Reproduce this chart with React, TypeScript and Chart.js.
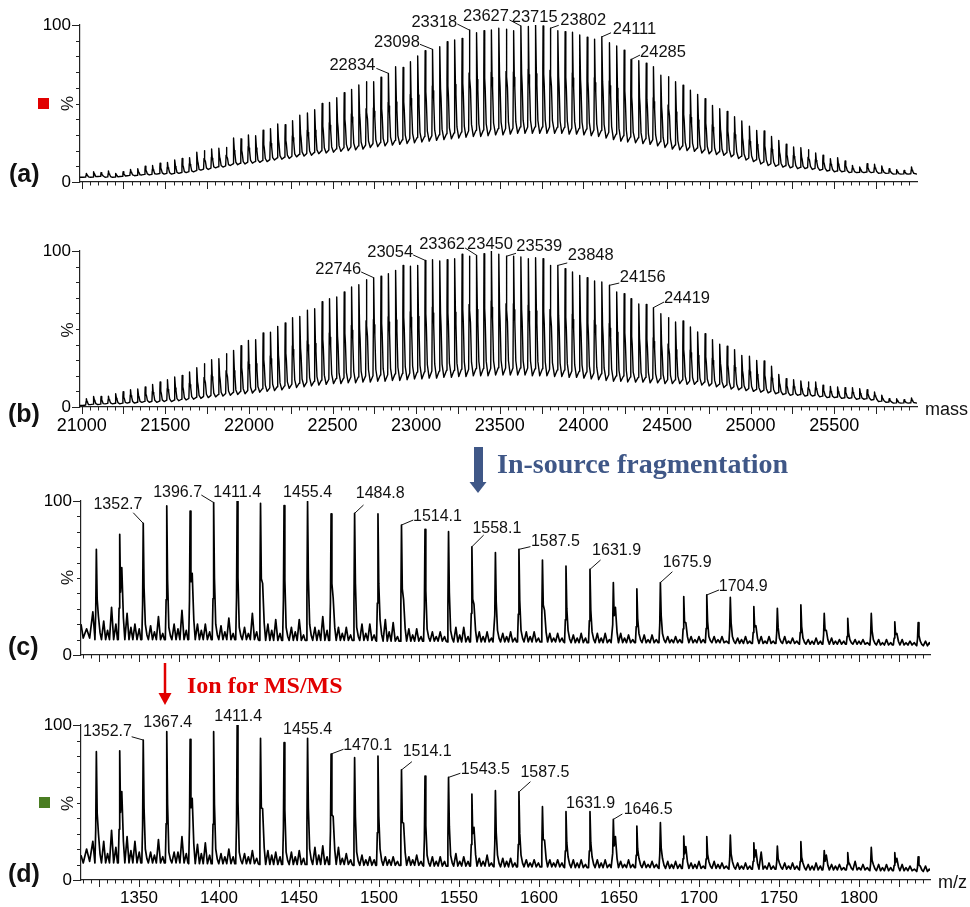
import React, { useEffect, useRef } from "react";
import { Chart, registerables } from "chart.js";
Chart.register(...registerables);

const FONT = "'Liberation Sans', Arial, Helvetica, sans-serif";
const SERIF = "'Liberation Serif', 'Times New Roman', serif";

// ---------------- deconvoluted mass spectra (a), (b) ----------------
const massPeaks = [
  21028, 21072, 21116, 21160, 21204, 21248, 21292, 21336, 21380, 21424,
  21469, 21513, 21557, 21601, 21645, 21689, 21733, 21777, 21821, 21865,
  21909, 21953, 21997, 22041, 22085, 22129, 22173, 22217, 22261, 22305,
  22350, 22394, 22438, 22482, 22526, 22570, 22614, 22658, 22702, 22746,
  22790, 22834, 22878, 22922, 22966, 23010, 23054, 23098, 23142, 23186,
  23231, 23275, 23318, 23362, 23406, 23450, 23495, 23539, 23583, 23627,
  23671, 23715, 23759, 23802, 23848, 23891, 23935, 23979, 24023, 24067,
  24111, 24156, 24200, 24244, 24285, 24332, 24376, 24419, 24464, 24508,
  24552, 24596, 24640, 24684, 24728, 24772, 24816, 24860, 24904, 24948,
  24993, 25037, 25081, 25125, 25169, 25213, 25257, 25301, 25345, 25389,
  25433, 25477, 25521, 25565, 25609, 25653, 25697, 25741, 25785, 25829,
  25874, 25918, 25962,
];

const aPeakHeights = [
  5.5, 6.5, 6, 7, 5.5, 6.5, 8, 8.5,
  10, 10.5, 12, 12.5, 14, 15, 15.5, 19,
  20, 21, 21.5, 22, 28, 27.5, 30, 29.5,
  33, 34, 37, 36.5, 39, 42.5, 44, 46,
  50, 50.6, 53.7, 56.9, 59, 61.8, 63.9, 63.9,
  66.7, 69.2, 73.4, 72.9, 76.6, 80.3, 83.6, 84.5,
  86.2, 89.4, 90.4, 91.5, 96.8, 95.1, 96.4, 96.8,
  97.9, 97.3, 96.4, 99.4, 99, 100, 99.4, 97.9,
  96.4, 95.8, 95.4, 93.6, 92.2, 91, 92.5, 88.7,
  86.6, 84, 78, 77.3, 75.6, 73.5, 68, 67,
  63.9, 61.6, 58.4, 55.8, 53, 48.8, 46.7, 45,
  41.6, 38.9, 35.5, 32.9, 32.5, 29, 26.5, 24,
  22.3, 21.9, 20.6, 18.5, 17, 14.9, 15.5, 13.4,
  10.6, 9.6, 11.7, 11.3, 10.2, 8.5, 7.9, 7.4, 9.6,
];

const aValleys = [
  3, 3, 3.5, 3, 3, 3.5, 4, 4,
  4.5, 4.5, 5, 5, 5, 5.5, 6, 6.5,
  7.5, 8, 9, 9.5, 10.5, 11, 11.5, 12,
  12.5, 13, 14, 14.5, 15, 16, 16.5, 17,
  18, 18.5, 19, 19.5, 20, 20.5, 21, 22,
  22.5, 23, 23.5, 24, 24.5, 25, 25.5, 26,
  26.5, 27, 27.5, 28, 28.5, 29, 29, 29.5,
  30, 30, 30.5, 31, 31, 31, 31, 31,
  31, 31, 30.5, 30.5, 30, 29.5, 29, 28,
  27, 26, 25.5, 25, 24.5, 24, 23, 22,
  21, 20.5, 20, 19.5, 18.5, 18, 17.5, 17,
  16, 15, 14, 13, 11.5, 10.5, 10, 9.5,
  9, 8.5, 8.5, 8, 7.5, 7, 6.5, 6.5,
  6, 6, 6, 6, 5.5, 5.5, 5, 5, 5,
];

const bPeakHeights = [
  5.3, 6.8, 6.8, 7, 8.5, 9.8, 11.1, 11.5,
  12.8, 14.5, 16, 17.5, 19.2, 20.3, 22.4, 25.2,
  27.8, 30.3, 31, 34.2, 36.3, 39.3, 42.7, 43.2,
  47.4, 48, 51.7, 53.8, 57.3, 58.1, 62, 63,
  67.5, 69.4, 70.5, 73.7, 76.9, 78.4, 81.6, 82.9,
  83.8, 85.5, 87.6, 90.8, 90.2, 90.8, 94, 94.4,
  93.6, 94.4, 95, 97.9, 96.6, 97.2, 98.3, 100,
  97.9, 96.6, 96.6, 96.2, 95, 95.7, 95, 90.8,
  90.8, 88.7, 86.5, 84.4, 82.9, 80.8, 80.1, 78,
  73.7, 72.6, 69.4, 66, 65.8, 63.7, 59.8, 57.3,
  54.5, 55.1, 51.3, 48.1, 47, 43.2, 40.2, 38.9,
  36.8, 33.1, 32.5, 29.9, 29.5, 26.1, 20.9, 18.2,
  17.5, 16.7, 16, 16, 13.9, 13.2, 12.8, 12.4,
  12.4, 11.8, 11.1, 9.6, 7.5, 5.3, 5.3, 4.7, 5.8,
];

const bValleys = [
  1, 1.5, 1.5, 2, 2, 2, 2.5, 2.5,
  3, 3, 3, 3.5, 3.5, 4, 4.5, 5,
  5.5, 6, 6.5, 7, 7.5, 8, 8.5, 9,
  9.5, 10, 10.5, 11, 12, 12.5, 13, 13.5,
  14, 14.5, 15, 15, 15.5, 15.5, 16, 16,
  16.5, 16.5, 17, 17, 17.5, 18, 18, 18.5,
  18.5, 19, 19, 19.5, 19.5, 20, 20, 20,
  20.5, 20.5, 20.5, 20.5, 20.5, 20, 20, 20,
  19.5, 19.5, 19, 19, 18.5, 18, 17.5, 17,
  16.5, 16.5, 16, 16, 16, 15.5, 15.5, 15,
  15, 15, 14.5, 14.5, 14, 13.5, 13, 12.5,
  11.5, 11, 10.5, 10, 9.5, 9, 8.5, 8,
  7.5, 7.5, 7, 7, 6.5, 6, 6, 5.5,
  5.5, 5, 5, 4.5, 3.5, 3, 2.5, 2.5, 2.5,
];

const aLabelMasses = [22834, 23098, 23318, 23627, 23715, 23802, 24111, 24285];
const bLabelMasses = [22746, 23054, 23362, 23450, 23539, 23848, 24156, 24419];
const massTickLabels = [21000, 21500, 22000, 22500, 23000, 23500, 24000, 24500, 25000, 25500];

// ---------------- raw m/z spectra (c), (d) ----------------
const mzPeaks = [
  1323.4, 1338.0, 1352.7, 1367.4, 1382.0, 1396.7, 1411.4, 1426.0, 1440.7, 1455.4,
  1470.1, 1484.8, 1499.4, 1514.1, 1528.8, 1543.5, 1558.1, 1572.8, 1587.5, 1602.2,
  1616.9, 1631.9, 1646.5, 1661.2, 1675.9, 1690.5, 1704.9, 1719.6, 1734.3, 1749.0,
  1763.7, 1778.3, 1793.0, 1807.7, 1822.4, 1837.0,
];

const cPeakHeights = [
  68.6, 78.4, 85.5, 96.8, 93.5, 99, 100, 98.5, 97, 99.6,
  91.6, 92, 91.6, 84.4, 81.6, 80.1, 70.3, 66.5, 68.6, 61.7,
  57.8, 55.6, 47, 42.9, 47, 37.9, 39, 37.4, 31.4, 30.3,
  32.5, 27, 23.8, 27, 21.6, 21,
];
const cSideHeights = [
  25, 56.7, 20, 18, 53, 20, 18, 46.5, 18, 20,
  37, 18, 23, 36, 17, 16, 33, 16, 16, 29,
  16, 15, 31, 14, 14, 21, 12, 12, 19, 11,
  11, 16, 10, 10, 14, 9,
];
const cBaseline = [
  10, 10, 10, 10, 10, 10, 10, 9.5, 9.5, 9.5,
  9.5, 9.5, 9, 9, 9, 8.5, 8.5, 8.5, 8.5, 8.5,
  8, 8, 8, 8, 8, 8, 8, 7.5, 7.5, 7.5,
  7, 7, 7, 6.5, 6.5, 6,
];
const cBumpA = [
  22, 27, 19, 20, 20, 19, 18, 20, 18, 18,
  18, 20, 23, 17, 15, 18, 15, 14, 15, 14,
  13, 14, 14, 13, 12, 12, 12, 11, 12, 12,
  10, 11, 10, 10, 10, 9,
];
const cBumpB = [
  31, 20, 25, 29, 20, 24, 27, 23, 23, 25,
  18, 20, 21, 17, 15, 18, 15, 15, 15, 14,
  14, 14, 13, 13, 12, 12, 12, 12, 12, 11,
  11, 10, 10, 10, 9, 8,
];
const cBumpC = [
  16, 18, 15, 17, 16, 15, 14, 16, 15, 16,
  14, 14, 15, 13, 12, 13, 12, 12, 12, 11,
  11, 11, 11, 10, 10, 10, 10, 10, 9, 9,
  9, 9, 9, 8, 8, 8,
];
const cBumpD = [
  20, 17, 14, 16, 15, 14, 15, 14, 13, 16,
  13, 13, 12, 12, 12, 12, 11, 11, 11, 11,
  11, 10, 10, 10, 10, 10, 9, 9, 9, 9,
  9, 9, 8, 8, 8, 7,
];
const cLeadMz = [1313.8, 1315.2, 1317.3, 1319.2, 1321.2, 1322.4];
const cLeadValues = [20, 11, 17, 11, 28, 12];

const dPeakHeights = [
  82.8, 83.4, 90.3, 95.7, 90.8, 95.7, 100, 91.4, 88.6, 91.4,
  81.3, 78.9, 80, 71, 67.1, 66.2, 55.5, 57.6, 56.8, 47.3,
  44.1, 44.1, 39.1, 34.8, 37, 28.4, 28, 29, 24, 21.9,
  24.7, 19, 17.6, 21, 17.6, 15,
];
const dSideHeights = [
  30, 57, 20, 18, 52.7, 20, 18, 46, 18, 20,
  40.9, 18, 20, 36.6, 16, 16, 34, 16, 16, 25.8,
  15, 15, 28, 14, 14, 21.5, 12, 12, 19.4, 11,
  11, 16, 10, 10, 14, 9,
];
const dBaseline = [
  11, 11, 11, 11, 10.5, 10.5, 10.5, 10, 10, 10,
  10, 9.5, 9.5, 9.5, 9, 9, 9, 8.5, 8.5, 8.5,
  8, 8, 8, 8, 7.5, 7.5, 7.5, 7, 7, 7,
  6.5, 6.5, 6.5, 6, 6, 5.5,
];
const dBumpA = [
  25, 28, 18, 18, 23, 17, 17, 19, 18, 21,
  21, 16, 15, 15, 15, 17, 14, 14, 13, 13,
  13, 13, 12, 12, 12, 11, 12, 11, 18, 11,
  10, 10, 12, 10, 10, 9,
];
const dBumpB = [
  32, 25, 26, 28, 24, 20, 19, 18, 19, 22,
  17, 15, 15, 16, 15, 15, 16, 14, 13, 13,
  13, 13, 13, 12, 12, 12, 11, 11, 11, 11,
  11, 10, 10, 10, 9, 8,
];
const dBumpC = [
  17, 19, 16, 18, 17, 15, 15, 16, 15, 16,
  14, 13, 13, 13, 12, 12, 12, 12, 11, 11,
  11, 11, 10, 10, 10, 10, 10, 9, 9, 9,
  9, 9, 8, 8, 8, 7,
];
const dBumpD = [
  21, 18, 15, 17, 16, 15, 14, 15, 14, 15,
  13, 13, 12, 12, 12, 12, 11, 11, 11, 11,
  10, 10, 10, 10, 10, 9, 9, 9, 9, 9,
  9, 8, 8, 8, 7, 7,
];
const dLeadValues = [16, 11, 20, 12, 25, 12];

const cLabelMz = [1352.7, 1396.7, 1411.4, 1455.4, 1484.8, 1514.1, 1558.1, 1587.5, 1631.9, 1675.9, 1704.9];
const dLabelMz = [1352.7, 1367.4, 1411.4, 1455.4, 1470.1, 1514.1, 1543.5, 1587.5, 1631.9, 1646.5];
const mzTickLabels = [1350, 1400, 1450, 1500, 1550, 1600, 1650, 1700, 1750, 1800];

// ---------------- label placement (style: pixel offsets from peak top) ----------------
type LStyle = { tx: number; ty: number; lx?: number; ly?: number };
const aLabelStyle: LStyle[] = [
  { tx: -36, ty: -8, lx: 24, ly: 3 },
  { tx: -35.5, ty: -7, lx: 23, ly: 2 },
  { tx: -35, ty: -8, lx: 23, ly: 2 },
  { tx: -35, ty: -9, lx: 23.5, ly: 3 },
  { tx: -1, ty: -8 },
  { tx: 33, ty: -8, lx: -24.5, ly: 5 },
  { tx: 32.6, ty: -7, lx: -23.5, ly: 3 },
  { tx: 32, ty: -7.5, lx: -23, ly: 3 },
];
const bLabelStyle: LStyle[] = [
  { tx: -35.5, ty: -8.7, lx: 23, ly: 3 },
  { tx: -35, ty: -8.4, lx: 23, ly: 3 },
  { tx: -34.6, ty: -11.4, lx: 23, ly: 4 },
  { tx: -1.4, ty: -7 },
  { tx: 33, ty: -10, lx: -23.3, ly: 7 },
  { tx: 32.8, ty: -9.4, lx: -23.5, ly: 7 },
  { tx: 33.3, ty: -8.3, lx: -23.5, ly: 6 },
  { tx: 33.6, ty: -9.6, lx: -23, ly: 4 },
];
const cLabelStyle: LStyle[] = [
  { tx: -25.3, ty: -18.3, lx: 15.3, ly: 7.7 },
  { tx: -36, ty: -9.5, lx: 23.7, ly: 2 },
  { tx: 0, ty: -8 },
  { tx: 0, ty: -8.6 },
  { tx: 25.6, ty: -19.3, lx: -16.7, ly: 11 },
  { tx: 36, ty: -8, lx: -24.2, ly: 3 },
  { tx: 25, ty: -17.7, lx: -13.2, ly: 6 },
  { tx: 36.5, ty: -7.4, lx: -25, ly: 4.7 },
  { tx: 26.6, ty: -18.4, lx: -16, ly: 9 },
  { tx: 26.8, ty: -19.6, lx: -14.8, ly: 8.7 },
  { tx: 36.5, ty: -8, lx: -24.2, ly: 3 },
];
const dLabelStyle: LStyle[] = [
  { tx: -35.8, ty: -8, lx: 24.2, ly: 4.7 },
  { tx: 1, ty: -8.7 },
  { tx: 1, ty: -8 },
  { tx: 0, ty: -8.3 },
  { tx: 36.6, ty: -8, lx: -24.2, ly: 3.3 },
  { tx: 25.7, ty: -18, lx: -15.3, ly: 9.7 },
  { tx: 36.8, ty: -7.4, lx: -25, ly: 3.3 },
  { tx: 26, ty: -19, lx: -14.5, ly: 8.7 },
  { tx: 0.6, ty: -7.6 },
  { tx: 34.8, ty: -9.4, lx: -25.8, ly: 4 },
];

// ---------------- trace builders ----------------
type P = { x: number; y: number };
function buildMassTrace(peaks: number[], heights: number[], valleys: number[], xmin: number, xmax: number): P[] {
  const pts: P[] = [{ x: xmin, y: valleys[0] }];
  peaks.forEach((m, i) => {
    const h = heights[i];
    const v = valleys[i];
    const r = h - v;
    pts.push(
      { x: m - 20, y: v },
      { x: m - 4, y: v + 0.06 * r },
      { x: m - 1.5, y: v + 0.6 * r },
      { x: m, y: h },
      { x: m + 4, y: v + 0.55 * r },
      { x: m + 7, y: v + 0.45 * r },
      { x: m + 13, y: v + 0.12 * r }
    );
  });
  pts.push({ x: xmax, y: valleys[valleys.length - 1] });
  return pts;
}

function buildMzTrace(
  leadX: number[], leadY: number[], peaks: number[], heights: number[], sides: number[],
  base: number[], bumpA: number[], bumpB: number[], bumpC: number[], bumpD: number[], xmax: number
): P[] {
  const pts: P[] = leadX.map((x, k) => ({ x, y: leadY[k] }));
  peaks.forEach((m, i) => {
    const h = heights[i];
    const s = sides[i];
    const b = base[i];
    pts.push(
      { x: m - 0.9, y: b },
      { x: m - 0.4, y: b + 0.3 * (h - b) },
      { x: m, y: h },
      { x: m + 0.5, y: b + 0.45 * (h - b) },
      { x: m + 1.3, y: s },
      { x: m + 2.3, y: b + 0.3 * (s - b) },
      { x: m + 3.2, y: b },
      { x: m + 4.6, y: bumpA[i] },
      { x: m + 5.8, y: b },
      { x: m + 7.0, y: bumpC[i] },
      { x: m + 8.2, y: b },
      { x: m + 9.5, y: bumpB[i] },
      { x: m + 10.8, y: b },
      { x: m + 12.2, y: bumpD[i] },
      { x: m + 13.2, y: b }
    );
  });
  pts.push({ x: xmax, y: base[base.length - 1] });
  return pts;
}

// ---------------- panel config ----------------
type PanelCfg = {
  top: number; height: number;
  padding: { left: number; right: number; top: number; bottom: number };
  xHeight: number;
  xmin: number; xmax: number;
  points: P[];
  lineWidth: number;
  tickLabels: number[]; showTickLabels: boolean; tickFont: number;
  minorStep: number; majorStep: number; tickFrom: number; tickTo: number;
  peaks: number[]; heights: number[];
  labels: number[]; labelStyle: LStyle[]; labelFont: number; fmt: (v: number) => string;
};

const MASS_MIN = 20990, MASS_MAX = 25995;
const MZ_MIN = 1313.8, MZ_MAX = 1844.4;

const panels: PanelCfg[] = [
  {
    top: 0, height: 215, padding: { left: 20, right: 53, top: 25, bottom: 3 }, xHeight: 30,
    xmin: MASS_MIN, xmax: MASS_MAX,
    points: buildMassTrace(massPeaks, aPeakHeights, aValleys, MASS_MIN, MASS_MAX), lineWidth: 1.4,
    tickLabels: massTickLabels, showTickLabels: false, tickFont: 18,
    minorStep: 50, majorStep: 250, tickFrom: 21000, tickTo: 25950,
    peaks: massPeaks, heights: aPeakHeights, labels: aLabelMasses, labelStyle: aLabelStyle, labelFont: 16.5,
    fmt: (v) => String(v),
  },
  {
    top: 230, height: 215, padding: { left: 20, right: 53, top: 21, bottom: 8 }, xHeight: 30,
    xmin: MASS_MIN, xmax: MASS_MAX,
    points: buildMassTrace(massPeaks, bPeakHeights, bValleys, MASS_MIN, MASS_MAX), lineWidth: 1.4,
    tickLabels: massTickLabels, showTickLabels: true, tickFont: 18,
    minorStep: 50, majorStep: 250, tickFrom: 21000, tickTo: 25950,
    peaks: massPeaks, heights: bPeakHeights, labels: bLabelMasses, labelStyle: bLabelStyle, labelFont: 16.5,
    fmt: (v) => String(v),
  },
  {
    top: 470, height: 215, padding: { left: 21, right: 40, top: 31, bottom: 0 }, xHeight: 30,
    xmin: MZ_MIN, xmax: MZ_MAX,
    points: buildMzTrace(cLeadMz, cLeadValues, mzPeaks, cPeakHeights, cSideHeights, cBaseline, cBumpA, cBumpB, cBumpC, cBumpD, MZ_MAX),
    lineWidth: 1.7,
    tickLabels: mzTickLabels, showTickLabels: false, tickFont: 17,
    minorStep: 5, majorStep: 25, tickFrom: 1315, tickTo: 1840,
    peaks: mzPeaks, heights: cPeakHeights, labels: cLabelMz, labelStyle: cLabelStyle, labelFont: 16,
    fmt: (v) => v.toFixed(1),
  },
  {
    top: 690, height: 217, padding: { left: 21, right: 40, top: 35, bottom: 2 }, xHeight: 25,
    xmin: MZ_MIN, xmax: MZ_MAX,
    points: buildMzTrace(cLeadMz, dLeadValues, mzPeaks, dPeakHeights, dSideHeights, dBaseline, dBumpA, dBumpB, dBumpC, dBumpD, MZ_MAX),
    lineWidth: 1.7,
    tickLabels: mzTickLabels, showTickLabels: true, tickFont: 17,
    minorStep: 5, majorStep: 25, tickFrom: 1315, tickTo: 1840,
    peaks: mzPeaks, heights: dPeakHeights, labels: dLabelMz, labelStyle: dLabelStyle, labelFont: 16,
    fmt: (v) => v.toFixed(1),
  },
];

function decorPlugin(cfg: PanelCfg) {
  return {
    id: "decor",
    afterDraw(chart: any) {
      const { ctx, chartArea: ca } = chart;
      const x = chart.scales.x;
      const y = chart.scales.y;
      ctx.save();
      ctx.strokeStyle = "#222";
      ctx.lineWidth = 1;
      ctx.beginPath();
      const n = Math.round((cfg.tickTo - cfg.tickFrom) / cfg.minorStep);
      for (let k = 0; k <= n; k++) {
        const v = cfg.tickFrom + k * cfg.minorStep;
        const major = Math.abs(v / cfg.majorStep - Math.round(v / cfg.majorStep)) < 1e-6;
        const px = Math.round(x.getPixelForValue(v)) + 0.5;
        ctx.moveTo(px, ca.bottom);
        ctx.lineTo(px, ca.bottom + (major ? 7 : 3.5));
      }
      for (let v = 0; v <= 100; v += 10) {
        const py = Math.round(y.getPixelForValue(v)) + 0.5;
        const long = v === 0 || v === 100;
        ctx.moveTo(ca.left, py);
        ctx.lineTo(ca.left - (long ? 8 : 4), py);
      }
      ctx.stroke();

      ctx.font = `${cfg.labelFont}px ${FONT}`;
      ctx.fillStyle = "#111";
      ctx.textAlign = "center";
      ctx.textBaseline = "middle";
      cfg.labels.forEach((val, k) => {
        let idx = 0;
        let best = Infinity;
        cfg.peaks.forEach((m, i) => {
          const d = Math.abs(m - val);
          if (d < best) { best = d; idx = i; }
        });
        const px = x.getPixelForValue(val);
        const py = y.getPixelForValue(cfg.heights[idx]);
        const st = cfg.labelStyle[k];
        const tx = px + st.tx;
        const ty = py + st.ty;
        ctx.fillText(cfg.fmt(val), tx, ty);
        if (st.lx !== undefined && st.ly !== undefined) {
          ctx.beginPath();
          ctx.lineWidth = 1;
          ctx.strokeStyle = "#111";
          ctx.moveTo(tx + st.lx, ty + st.ly);
          ctx.lineTo(px, py);
          ctx.stroke();
        }
      });
      ctx.restore();
    },
  };
}

function Panel({ cfg }: { cfg: PanelCfg }) {
  const ref = useRef<HTMLCanvasElement>(null);
  useEffect(() => {
    if (!ref.current) return;
    const tickLabels = cfg.tickLabels;
    const chart = new Chart(ref.current, {
      type: "line",
      data: {
        datasets: [
          {
            data: cfg.points as any,
            borderColor: "#000",
            borderWidth: cfg.lineWidth,
            borderJoinStyle: "round",
            pointRadius: 0,
            tension: 0,
            fill: false,
          },
        ],
      },
      options: {
        responsive: false,
        animation: false,
        devicePixelRatio: 1,
        events: [],
        layout: { padding: cfg.padding },
        plugins: { legend: { display: false }, tooltip: { enabled: false } },
        scales: {
          x: {
            type: "linear",
            min: cfg.xmin,
            max: cfg.xmax,
            grid: { display: false, drawTicks: false },
            border: { display: true, color: "#222", width: 1.2 },
            ticks: {
              display: cfg.showTickLabels,
              autoSkip: false,
              maxRotation: 0,
              padding: 8,
              color: "#000",
              font: { family: FONT, size: cfg.tickFont },
              callback: (v: any) => String(v),
            },
            afterBuildTicks: (s: any) => {
              s.ticks = tickLabels.map((v) => ({ value: v }));
            },
            afterFit: (s: any) => {
              s.height = cfg.xHeight;
            },
          },
          y: {
            type: "linear",
            min: 0,
            max: 100,
            grid: { display: false, drawTicks: false },
            border: { display: true, color: "#222", width: 1.2 },
            ticks: {
              padding: 9,
              color: "#000",
              font: { family: FONT, size: 17 },
              callback: (v: any) => String(v),
            },
            afterBuildTicks: (s: any) => {
              s.ticks = [{ value: 0 }, { value: 100 }];
            },
            afterFit: (s: any) => {
              s.width = 60;
            },
          },
        },
      } as any,
      plugins: [decorPlugin(cfg)],
    });
    return () => chart.destroy();
  }, [cfg]);
  return (
    <canvas
      ref={ref}
      width={970}
      height={cfg.height}
      style={{ position: "absolute", left: 0, top: cfg.top, width: 970, height: cfg.height }}
    />
  );
}

export default function App() {
  const blue = "#3f5787";
  const red = "#e10000";
  return (
    <div style={{ position: "absolute", left: 0, top: 0, width: 970, height: 907, background: "#fff", overflow: "hidden" }}>
      {panels.map((p, i) => (
        <Panel key={i} cfg={p} />
      ))}
      <svg width={970} height={907} style={{ position: "absolute", left: 0, top: 0, pointerEvents: "none" }}>
        <g fontFamily={FONT} fontWeight="bold" fontSize={25} fill="#111">
          <text x={9} y={182}>(a)</text>
          <text x={8} y={421.5}>(b)</text>
          <text x={8} y={655}>(c)</text>
          <text x={8} y={881.5}>(d)</text>
        </g>
        <g fontFamily={FONT} fontSize={17} fill="#111" textAnchor="middle">
          <text transform="translate(73,103.5) rotate(-90)">%</text>
          <text transform="translate(73,330) rotate(-90)">%</text>
          <text transform="translate(73,577.5) rotate(-90)">%</text>
          <text transform="translate(73,803.5) rotate(-90)">%</text>
        </g>
        <rect x={38} y={98} width={11} height={11} fill={red} />
        <rect x={39} y={797} width={11} height={11} fill="#4a7d22" />
        <text x={925} y={415} fontFamily={FONT} fontSize={18} fill="#111">mass</text>
        <text x={938} y={888} fontFamily={FONT} fontSize={18} fill="#111">m/z</text>
        <rect x={474} y={447} width={9} height={36} fill={blue} />
        <polygon points="469.5,482 486.5,482 478,493" fill={blue} />
        <text x={497} y={473} fontFamily={SERIF} fontWeight="bold" fontSize={28} fill={blue}>In-source fragmentation</text>
        <line x1={165} y1={663} x2={165} y2={696} stroke={red} strokeWidth={2.5} />
        <polygon points="158.5,693 171.5,693 165,705" fill={red} />
        <text x={187} y={693} fontFamily={SERIF} fontWeight="bold" fontSize={24} fill={red}>Ion for MS/MS</text>
      </svg>
    </div>
  );
}
